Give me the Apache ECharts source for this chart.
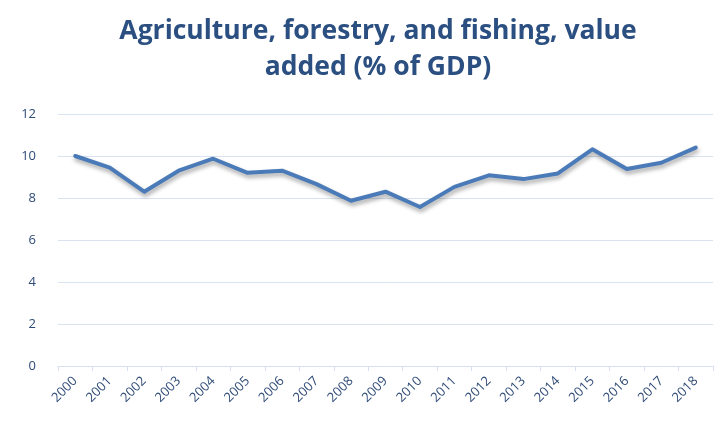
<!DOCTYPE html>
<html>
<head>
<meta charset="utf-8">
<script src="https://cdn.jsdelivr.net/npm/echarts@6/dist/echarts.min.js"></script>
<style>
  html, body { margin: 0; padding: 0; background: #fff; }
  #chart { width: 719px; height: 425px; }
</style>
</head>
<body>
<div id="chart"></div>
<script>
// Agriculture, forestry and fishing value added, share of GDP by year
const years = ['2000','2001','2002','2003','2004','2005','2006','2007','2008','2009',
               '2010','2011','2012','2013','2014','2015','2016','2017','2018'];
const valueAdded = [10.0, 9.45, 8.3, 9.3, 9.87, 9.2, 9.3, 8.66, 7.87, 8.3,
                    7.57, 8.53, 9.08, 8.9, 9.17, 10.32, 9.38, 9.68, 10.4];
const yTicks = [0, 2, 4, 6, 8, 10, 12];

const chart = echarts.init(document.getElementById('chart'), null, { renderer: 'canvas' });
chart.setOption({
  animation: false,
  title: {
    text: 'Agriculture, forestry, and fishing, value\nadded (% of GDP)',
    left: 373,
    textAlign: 'center',
    top: 8,
    textStyle: {
      fontFamily: 'Open Sans',
      fontWeight: 'bold',
      fontSize: 26.5,
      lineHeight: 36,
      color: '#2b4f80'
    }
  },
  grid: { left: 58, right: 6, top: 114, bottom: 59, containLabel: false },
  xAxis: {
    type: 'category',
    data: years,
    boundaryGap: true,
    axisLine: { lineStyle: { color: '#d6e0ef', width: 1 } },
    axisTick: { show: true, alignWithLabel: false, length: 5, lineStyle: { color: '#d6e0ef' } },
    axisLabel: {
      rotate: 45,
      interval: 0,
      margin: 13,
      fontFamily: 'Open Sans',
      fontSize: 13,
      color: '#2f4b77'
    },
    splitLine: { show: false }
  },
  yAxis: {
    type: 'value',
    min: yTicks[0],
    max: yTicks[yTicks.length - 1],
    interval: 2,
    axisLine: { show: false },
    axisTick: { show: false },
    axisLabel: {
      margin: 22,
      fontFamily: 'Open Sans',
      fontSize: 13,
      color: '#2f4b77'
    },
    splitLine: { lineStyle: { color: '#d9e2f1', width: 1 } }
  },
  series: [{
    type: 'line',
    data: valueAdded,
    symbol: 'none',
    lineStyle: {
      color: '#4a7bb8',
      width: 4,
      shadowColor: 'rgba(0,0,0,0.35)',
      shadowBlur: 4,
      shadowOffsetY: 3,
      shadowOffsetX: 1,
      join: 'round',
      cap: 'round'
    }
  }]
});
</script>
</body>
</html>
